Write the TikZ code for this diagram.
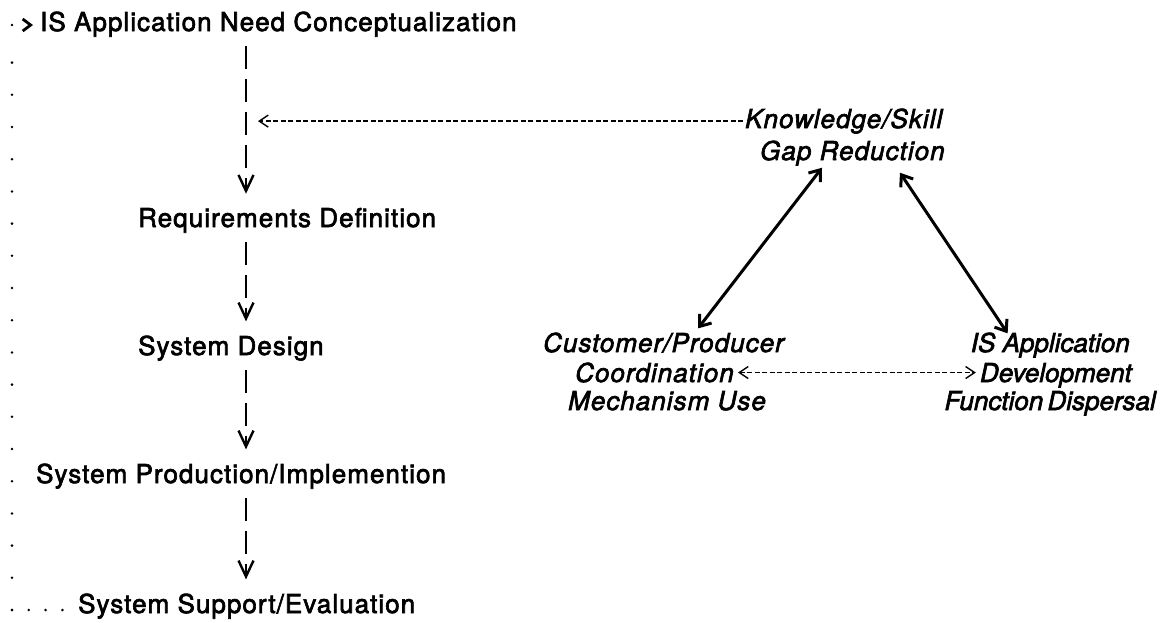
\documentclass[tikz,border=0pt]{standalone}
\usepackage{fontspec}
\setmainfont{TeX Gyre Heros}[LetterSpace=4, FakeBold=2.5]
\usetikzlibrary{arrows.meta,calc}

\begin{document}
\begin{tikzpicture}[x=1pt, y=-1pt,
    font=\fontsize{26}{30}\selectfont,
    stage/.style={anchor=base west, inner sep=0pt},
    factor/.style={stage, font=\fontsize{26}{30}\selectfont\itshape},
    tight/.style={font=\fontsize{26}{30}\selectfont\itshape\addfontfeature{LetterSpace=0}},
    flow/.style={line width=2.4pt, dash pattern=on 23pt off 10pt, shorten <=9pt, shorten >=14pt,
        -{Straight Barb[length=16pt,width=15pt]}},
    feed/.style={line width=1.4pt, dash pattern=on 5pt off 2.5pt},
    link/.style={line width=3pt,
        {Straight Barb[length=10pt,width=15pt]}-{Straight Barb[length=10pt,width=15pt]}},
    loopdots/.style={line width=2.8pt, line cap=round}]
    \useasboundingbox (0,0) rectangle (1165,622);

    % Development stages
    \node[stage] (need) at (40,31) {IS Application Need Conceptualization};
    \node[stage] (req) at (138,227) {Requirements Definition};
    \node[stage] (design) at (138,355) {System Design};
    \node[stage] (prod) at (36,483) {System Production/Implemention};
    \node[stage] (supp) at (78,613) {System Support/Evaluation};

    \coordinate (spine) at (246,0);
    \foreach \a/\b in {need/req, req/design, design/prod, prod/supp} {
        \draw[flow] (\a.south -| spine) -- (\b.north -| spine);
    }

    % Feedback loop on the left
    \coordinate (lowc) at (12,610);
    \coordinate (topc) at (12,25);
    \draw[loopdots, dash pattern=on 0pt off 16.8pt, shorten >=14pt] (lowc) -- (lowc -| supp.west);
    \draw[loopdots, dash pattern=on 0pt off 32.2pt, shorten >=20pt] (lowc) -- (topc);
    \draw[loopdots, dash pattern=on 0pt off 40pt, shorten >=7pt,
        -{Straight Barb[length=8pt,width=12pt]}] (topc) -- (topc -| need.west);

    % Factors
    \node[factor] (know) at (745,128) {Knowledge/Skill};
    \node[factor] (gap) at (760,160) {Gap Reduction};
    \node[factor] (cust) at (543,352) {Customer/Producer};
    \node[factor] (coord) at (575,382) {Coordination};
    \node[factor] (mech) at (568,410) {Mechanism Use};
    \node[factor, tight, anchor=base east] (isapp) at (1130,352) {IS Application};
    \node[factor, tight, anchor=base east] (devel) at (1132,382) {Development};
    \node[factor, tight, anchor=base east] (funcd) at (1156,410) {Function\,Dispersal};

    \draw[feed, shorten <=2pt, shorten >=12pt, -{Straight Barb[length=9pt,width=12pt]}]
        (know.west) -- (know.west -| spine);
    \draw[feed, shorten <=4pt, shorten >=4pt,
        {Straight Barb[length=9pt,width=12pt]}-{Straight Barb[length=9pt,width=12pt]}]
        (coord.east) -- (coord.east -| devel.west);

    \draw[link] ($(gap.south west)+(62,2)$) -- ($(cust.north west)+(155,-4)$);
    \draw[link] ($(gap.south west)+(140,7)$) -- ($(isapp.north west)+(37,1)$);
\end{tikzpicture}
\end{document}
